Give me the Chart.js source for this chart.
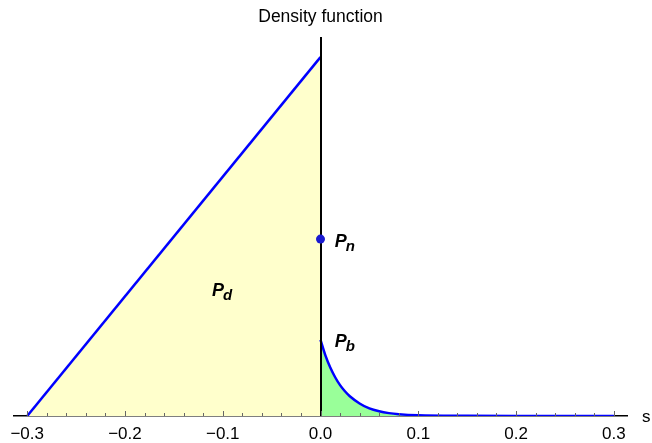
<!DOCTYPE html>
<html>
<head>
<meta charset="utf-8">
<script src="https://cdn.jsdelivr.net/npm/chart.js@4/dist/chart.umd.min.js"></script>
<style>
  html, body { margin: 0; padding: 0; background: #fff; }
  #wrap { width: 652px; height: 443px; }
</style>
</head>
<body>
<div id="wrap"><canvas id="chart" width="652" height="443"></canvas></div>
<script>
// ── Dados ─────────────────────────────────────────────────────────────
const xTicks = [-0.3, -0.2, -0.1, 0.0, 0.1, 0.2, 0.3];
const xMinorTicks = [-0.28, -0.26, -0.24, -0.22, -0.18, -0.16, -0.14, -0.12,
  -0.08, -0.06, -0.04, -0.02, 0.02, 0.04, 0.06, 0.08, 0.12, 0.14, 0.16, 0.18,
  0.22, 0.24, 0.26, 0.28];

// P_d: densidade triangular (s, f)
const triangleS = [-0.3, 0.0];
const triangleF = [0.0, 1.0];

// P_b: cauda
const tailS = [0, 0.005, 0.01, 0.015, 0.02, 0.025, 0.03, 0.04, 0.05, 0.06, 0.07, 0.08, 0.1, 0.15, 0.2, 0.3];
const tailF = [0.212, 0.169, 0.135, 0.108, 0.086, 0.069, 0.055, 0.035, 0.021, 0.013, 0.008, 0.005, 0.002, 0.0005, 0, 0];

// P_n: massa pontual
const pointS = [0.0];
const pointF = [0.493];

const xMin = -0.3135, xMax = 0.3135, yMax = 1.056;

// ── Utilitários ───────────────────────────────────────────────────────
const toXY = (xs, ys) => xs.map((x, i) => ({ x, y: ys[i] }));
const fmtTick = v => {
  const s = Math.abs(v).toFixed(1);
  return v < -1e-9 ? "\u2212" + s : s;
};

function drawLabel(ctx, x, y, main, sub) {
  ctx.font = "italic bold 18px 'Liberation Sans', Arial, sans-serif";
  ctx.textAlign = "left";
  ctx.textBaseline = "alphabetic";
  ctx.fillText(main, x, y);
  const w = ctx.measureText(main).width;
  ctx.font = "italic bold 15px 'Liberation Sans', Arial, sans-serif";
  ctx.fillText(sub, x + w - 1, y + 4);
}

// ── Plugin: eixo vertical, marcas e textos ────────────────────────────
const decorations = {
  id: "decorations",
  // eixo vertical logo antes do ponto P_n (desenhado por último)
  beforeDatasetDraw(chart, args) {
    if (args.index !== 2) return;
    const { ctx, chartArea, scales: { x } } = chart;
    const x0 = Math.round(x.getPixelForValue(0));
    ctx.save();
    ctx.strokeStyle = "#000";
    ctx.lineWidth = 2;
    ctx.beginPath();
    ctx.moveTo(x0, chartArea.top);
    ctx.lineTo(x0, chartArea.bottom);
    ctx.stroke();
    ctx.restore();
  },
  afterDatasetsDraw(chart) {
    const { ctx, chartArea, scales: { x, y } } = chart;
    const bottom = chartArea.bottom;
    ctx.save();
    ctx.strokeStyle = "#666";
    ctx.lineWidth = 1;
    xTicks.forEach(v => {
      const px = Math.round(x.getPixelForValue(v)) + 0.5;
      ctx.beginPath(); ctx.moveTo(px, bottom); ctx.lineTo(px, bottom - 5); ctx.stroke();
    });
    xMinorTicks.forEach(v => {
      const px = Math.round(x.getPixelForValue(v)) + 0.5;
      ctx.beginPath(); ctx.moveTo(px, bottom); ctx.lineTo(px, bottom - 3); ctx.stroke();
    });

    ctx.fillStyle = "#000";
    ctx.font = "17.5px 'Liberation Sans', Arial, sans-serif";
    ctx.textAlign = "center";
    ctx.textBaseline = "middle";
    ctx.fillText("Density function", x.getPixelForValue(0), 17);
    ctx.font = "17px 'Liberation Sans', Arial, sans-serif";
    ctx.textAlign = "left";
    ctx.fillText("s", chartArea.right + 15, bottom + 1);

    drawLabel(ctx, x.getPixelForValue(0.0145), y.getPixelForValue(0.471), "P", "n");
    drawLabel(ctx, x.getPixelForValue(-0.111), y.getPixelForValue(0.333), "P", "d");
    drawLabel(ctx, x.getPixelForValue(0.0145), y.getPixelForValue(0.191), "P", "b");
    ctx.restore();
  },
};

// ── Gráfico ───────────────────────────────────────────────────────────
new Chart(document.getElementById("chart"), {
  type: "scatter",
  data: {
    datasets: [
      {
        data: toXY(triangleS, triangleF),
        order: 2,
        showLine: true,
        borderColor: "#0000ff",
        borderWidth: 2.5,
        backgroundColor: "rgb(255,255,204)",
        fill: "origin",
        pointRadius: 0,
      },
      {
        data: toXY(tailS, tailF),
        order: 1,
        showLine: true,
        cubicInterpolationMode: "monotone",
        borderColor: "#0000ff",
        borderWidth: 2.5,
        backgroundColor: "rgb(153,255,153)",
        fill: "origin",
        pointRadius: 0,
      },
      {
        data: toXY(pointS, pointF),
        order: 0,
        clip: false,
        pointRadius: 4.5,
        pointBackgroundColor: "#1a1ad0",
        pointBorderColor: "#1a1ad0",
        pointBorderWidth: 0,
      },
    ],
  },
  options: {
    responsive: false,
    animation: false,
    layout: { padding: { left: 14, right: 25, top: 37, bottom: 0 } },
    plugins: {
      legend: { display: false },
      tooltip: { enabled: false },
    },
    scales: {
      x: {
        type: "linear",
        min: xMin,
        max: xMax,
        afterBuildTicks: s => { s.ticks = xTicks.map(v => ({ value: v })); },
        afterFit: s => { s.height = 27; },
        grid: { display: false, drawTicks: false },
        border: { display: true, color: "#000", width: 1.5 },
        ticks: {
          color: "#000",
          padding: 8,
          maxRotation: 0,
          autoSkip: false,
          font: { family: "'Liberation Sans', Arial, sans-serif", size: 17 },
          callback: v => fmtTick(v),
        },
      },
      y: {
        display: false,
        min: 0,
        max: yMax,
      },
    },
  },
  plugins: [decorations],
});
</script>
</body>
</html>
